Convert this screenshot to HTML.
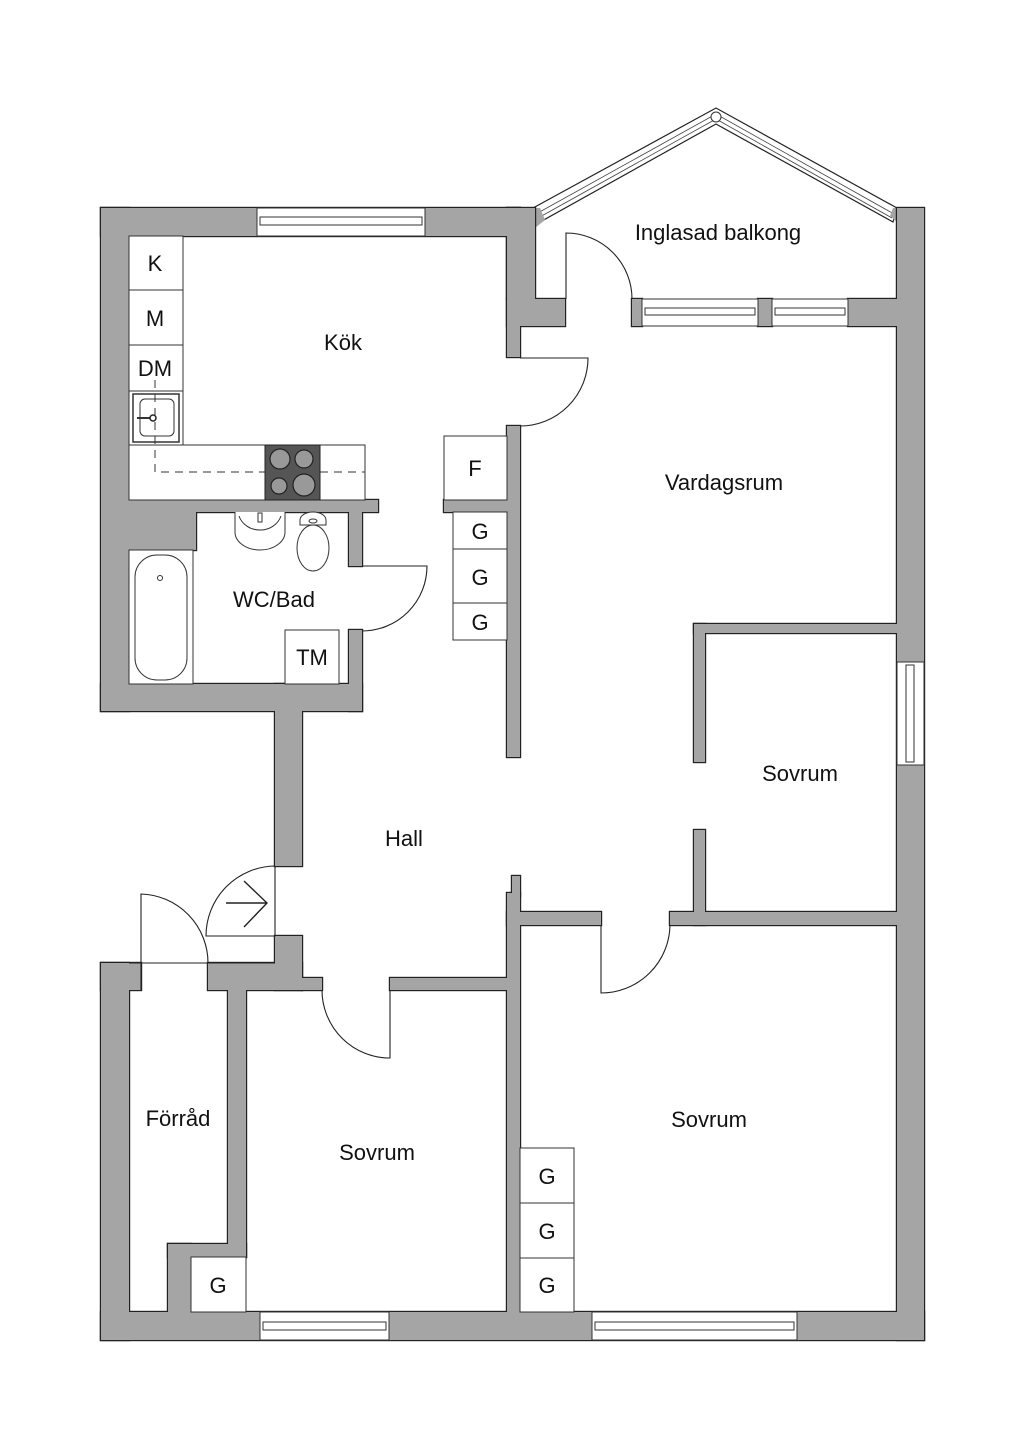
<!DOCTYPE html>
<html><head><meta charset="utf-8"><style>
html,body{margin:0;padding:0;background:#fff}
svg{display:block}
text{font-family:"Liberation Sans",sans-serif;fill:#111}
</style></head><body>
<svg width="1024" height="1448" viewBox="0 0 1024 1448" xmlns="http://www.w3.org/2000/svg">
<defs>
<g id="walls">
<!-- top kitchen wall -->
<rect x="101" y="208" width="419" height="28"/>
<!-- left wall upper -->
<rect x="101" y="208" width="28" height="503"/>
<!-- bottom of WC block -->
<rect x="101" y="684" width="261" height="27"/>
<!-- hall left wall -->
<rect x="275" y="684" width="27" height="182"/>
<rect x="275" y="936" width="27" height="54"/>
<!-- WC right wall -->
<rect x="349" y="500" width="13" height="66"/>
<rect x="349" y="630" width="13" height="81"/>
<!-- kitchen bottom wall -->
<rect x="129" y="500" width="249" height="12"/>
<rect x="129" y="500" width="67" height="50"/>
<!-- kitchen right / balcony left -->
<rect x="507" y="208" width="28" height="91"/>
<rect x="507" y="208" width="13" height="149"/>
<rect x="507" y="299" width="58" height="27"/>
<rect x="507" y="426" width="13" height="331"/>
<rect x="444" y="500" width="63" height="12"/>
<!-- balcony bottom wall pieces -->
<rect x="632" y="299" width="10" height="27"/>
<rect x="758" y="299" width="14" height="27"/>
<rect x="848" y="299" width="49" height="27"/>
<!-- right outer wall -->
<rect x="897" y="208" width="27" height="1132"/>
<!-- lower hall wall -->
<rect x="512" y="876" width="8" height="20"/>
<rect x="507" y="893" width="13" height="420"/>
<!-- horizontal wall between hall and bedroom -->
<rect x="507" y="912" width="94" height="13"/>
<rect x="670" y="912" width="227" height="13"/>
<!-- small bedroom walls -->
<rect x="694" y="624" width="203" height="9"/>
<rect x="694" y="624" width="11" height="138"/>
<rect x="694" y="830" width="11" height="95"/>
<!-- bottom wall -->
<rect x="101" y="1312" width="823" height="28"/>
<!-- Förråd -->
<rect x="101" y="963" width="28" height="377"/>
<rect x="101" y="963" width="40" height="27"/>
<rect x="208" y="963" width="94" height="27"/>
<rect x="302" y="978" width="20" height="12"/>
<rect x="390" y="978" width="117" height="12"/>
<rect x="228" y="990" width="18" height="267"/>
<rect x="168" y="1244" width="78" height="13"/>
<rect x="168" y="1244" width="23" height="70"/>
</g>
</defs>
<!-- balcony glazing -->
<polygon points="533,208 716,108 897,208 893,222 716,124 540,222" fill="#fff" stroke="#222" stroke-width="1.2"/>
<polyline points="536,214 716,114 894,214" fill="none" stroke="#444" stroke-width="0.8"/>
<polyline points="538,218 716,119 892,218" fill="none" stroke="#444" stroke-width="0.8"/>
<polygon points="533,208 540,208 545,220 535,228 535,208" fill="#a5a5a5"/>
<polygon points="893,208 897,208 897,222 890,216" fill="#a5a5a5"/>
<circle cx="716" cy="117" r="5" fill="#fff" stroke="#333" stroke-width="1"/>
<!-- walls: outline layer then fill layer -->
<use href="#walls" fill="#222" stroke="#222" stroke-width="2.4"/>
<use href="#walls" fill="#a5a5a5"/>
<!-- windows -->
<g fill="#fff" stroke="#333" stroke-width="1">
<rect x="257" y="208" width="168" height="28"/>
<rect x="260" y="217" width="162" height="8"/>
<rect x="642" y="299" width="116" height="27"/>
<rect x="645" y="308" width="110" height="7"/>
<rect x="772" y="299" width="76" height="27"/>
<rect x="775" y="308" width="70" height="7"/>
<rect x="897" y="662" width="27" height="103"/>
<rect x="906" y="665" width="8" height="97"/>
<rect x="260" y="1312" width="129" height="28"/>
<rect x="263" y="1322" width="123" height="8"/>
<rect x="592" y="1312" width="205" height="28"/>
<rect x="595" y="1322" width="199" height="8"/>
</g>
<!-- doors -->
<g fill="none" stroke="#222" stroke-width="1.1">
<path d="M520,358 H588 A68,68 0 0 1 520,426"/>
<path d="M566,299 V233 A66,66 0 0 1 632,299"/>
<path d="M362,566 H427 A65,65 0 0 1 362,631"/>
<path d="M275,866 V936 H206 A70,70 0 0 1 275,866"/>
<path d="M141,990 V894 A69,69 0 0 1 208,963"/>
<line x1="129" y1="963" x2="275" y2="963"/>
<path d="M390,990 V1058 A68,68 0 0 1 322,990"/>
<path d="M601,925 V993 A69,69 0 0 0 670,925"/>
<path d="M226,903 H266 M244,881 L267,903 L244,927" stroke-width="1.4"/>
</g>
<!-- kitchen fixtures -->
<g fill="#fff" stroke="#333" stroke-width="1">
<rect x="129" y="236" width="54" height="54"/>
<rect x="129" y="290" width="54" height="55"/>
<rect x="129" y="345" width="54" height="46"/>
<rect x="129" y="391" width="54" height="54"/>
<rect x="129" y="445" width="236" height="55"/>
<rect x="133" y="394" width="46" height="48" stroke-width="1.5"/>
<rect x="140" y="399" width="34" height="37" rx="5"/>
</g>
<line x1="137" y1="418" x2="152" y2="418" stroke="#333" stroke-width="2"/>
<circle cx="153" cy="418" r="3" fill="#fff" stroke="#222" stroke-width="1.5"/>
<path d="M155,380 V472 H265 M320,472 H365" fill="none" stroke="#333" stroke-width="1" stroke-dasharray="8,6"/>
<rect x="265" y="445" width="55" height="55" fill="#555" stroke="#222"/>
<g fill="#999" stroke="#222" stroke-width="1.2">
<circle cx="280" cy="459" r="10"/><circle cx="304" cy="459" r="9"/>
<circle cx="279" cy="486" r="8"/><circle cx="304" cy="485" r="11"/>
</g>
<!-- F and G boxes -->
<g fill="#fff" stroke="#333" stroke-width="1">
<rect x="444" y="436" width="63" height="64"/>
<rect x="453" y="512" width="54" height="37"/>
<rect x="453" y="549" width="54" height="54"/>
<rect x="453" y="603" width="54" height="37"/>
<rect x="520" y="1148" width="54" height="55"/>
<rect x="520" y="1203" width="54" height="55"/>
<rect x="520" y="1258" width="54" height="54"/>
<rect x="191" y="1257" width="55" height="55"/>
<rect x="285" y="630" width="54" height="54"/>
<!-- bath -->
<rect x="129" y="550" width="64" height="134"/>
<rect x="135" y="555" width="52" height="125" rx="22"/>
<!-- sink -->
<path d="M235,512 V532 A25,18 0 0 0 285,532 V512"/>
<path d="M239,516 A22,20 0 0 0 281,516"/>
<!-- toilet -->
<path d="M300,520 A13,8 0 0 1 326,520 L326,525 L300,525 Z"/>
<ellipse cx="313" cy="548" rx="16" ry="23"/>
</g>
<circle cx="160" cy="578" r="2.5" fill="#fff" stroke="#333"/>
<rect x="258" y="513" width="4" height="9" fill="#fff" stroke="#333"/>
<ellipse cx="313" cy="521" rx="4" ry="2" fill="#fff" stroke="#333"/>
<!-- labels -->
<g font-size="22" text-anchor="middle">
<text x="343" y="350">Kök</text>
<text x="718" y="240">Inglasad balkong</text>
<text x="724" y="490">Vardagsrum</text>
<text x="274" y="607">WC/Bad</text>
<text x="312" y="665">TM</text>
<text x="475" y="476">F</text>
<text x="480" y="539">G</text>
<text x="480" y="585">G</text>
<text x="480" y="630">G</text>
<text x="800" y="781">Sovrum</text>
<text x="404" y="846">Hall</text>
<text x="178" y="1126">Förråd</text>
<text x="377" y="1160">Sovrum</text>
<text x="709" y="1127">Sovrum</text>
<text x="547" y="1184">G</text>
<text x="547" y="1239">G</text>
<text x="547" y="1293">G</text>
<text x="218" y="1293">G</text>
<text x="155" y="271">K</text>
<text x="155" y="326">M</text>
<text x="155" y="376">DM</text>
</g>
</svg>
</body></html>
